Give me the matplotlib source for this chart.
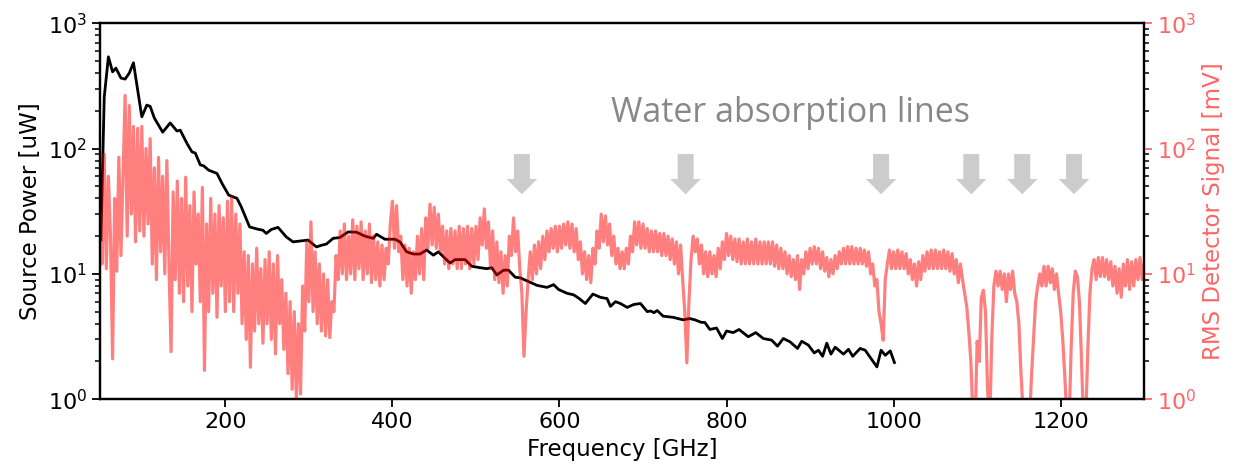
import numpy as np
import matplotlib
matplotlib.use('Agg')
import matplotlib.pyplot as plt

# source power (black)
power_freq = [51, 55, 60, 65, 69, 75, 80, 85, 90, 100, 106, 110, 115, 125, 134, 142, 146, 154, 160, 164,
              170, 174, 180, 190, 196, 204, 214, 219, 229, 239, 245, 249, 255, 263, 273, 281, 287, 299,
              309, 315, 321, 329, 337, 347, 357, 367, 377, 381, 391, 403, 409, 417, 425, 433, 441, 449,
              455, 461, 469, 475, 487, 495, 505, 513, 519, 525, 533, 539, 547, 553, 561, 573, 585, 593,
              599, 609, 617, 623, 631, 640, 649, 657, 661, 667, 673, 681, 689, 697, 705, 709, 713, 717,
              724, 736, 748, 756, 762, 770, 774, 780, 788, 795, 800, 808, 815, 826, 835, 844, 854, 861,
              868, 876, 885, 890, 898, 905, 910, 915, 920, 925, 930, 940, 946, 951, 960, 966, 973, 980,
              985, 990, 996, 1001]
power_uw = [18.6, 257, 539, 409, 438, 365, 358, 400, 483, 179, 222, 217, 175, 135, 160, 138, 140, 110, 94, 92,
            74, 72.8, 67.2, 63.3, 52.7, 42.5, 40, 34.3, 23.7, 22.7, 22.3, 21, 22.6, 23.5, 19.7, 18, 18.2, 18.6,
            16.4, 16.9, 17.3, 19.2, 19.5, 21.6, 21.5, 20, 19.2, 20.7, 18.9, 18.9, 18, 15, 14.4, 14.4, 15.5, 14.1,
            15, 13.7, 12.2, 13, 13, 11.5, 11.2, 11, 11.2, 9.8, 10.7, 10.7, 9.4, 9.3, 8.8, 8.1, 7.8, 8.2,
            7.5, 7.0, 6.8, 6.4, 5.8, 6.9, 6.5, 6.35, 5.5, 6.0, 5.8, 5.4, 5.7, 5.8, 5.0, 5.06, 4.9, 5.1,
            4.6, 4.5, 4.3, 4.4, 4.3, 4.1, 4.1, 3.6, 3.7, 3.05, 3.5, 3.4, 3.6, 3.15, 3.4, 3.05, 2.96, 2.65,
            3.05, 2.87, 2.54, 2.9, 2.7, 2.34, 2.46, 2.2, 2.8, 2.29, 2.6, 2.29, 2.5, 2.2, 2.54, 2.46, 2.11, 1.81,
            2.46, 2.24, 2.43, 1.96]

# RMS detector signal (pink), one value every 2.5 GHz from 50 to 1300 GHz
rms_freq = np.arange(50, 1300.1, 2.5)
rms_mv = [
    # 50 - 97.5
    30, 12, 90, 11, 60, 20, 2.1, 40, 10.5, 85, 14, 60, 265, 20, 220, 30, 150, 18, 145, 22,
    # 100 - 147.5
    150, 20, 100, 25, 120, 12, 70, 9, 85, 15, 60, 10, 80, 12, 2.4, 45, 9, 55, 7, 40,
    # 150 - 197.5
    6, 59, 8, 35, 5, 45, 12, 30, 6, 49, 1.7, 25, 5, 40, 7, 30, 4.5, 35, 8, 28,
    # 200 - 247.5
    5, 38, 6, 41, 5, 30, 7, 25, 4, 15, 3, 14, 1.8, 12, 3.5, 16, 4, 11, 2.8, 13,
    # 250 - 297.5
    4, 15, 3, 12, 2.3, 14, 4, 9, 2.5, 7, 1.6, 6, 1.2, 5, 1.0, 4, 1.1, 8, 3.5, 18,
    # 300 - 347.5
    6, 26, 5, 15, 4, 12, 3.5, 10, 3.2, 9, 3.1, 6, 5, 14, 9, 22, 10, 25, 9, 20,
    # 350 - 397.5
    10, 27, 9, 24, 11, 26, 9, 22, 10, 25, 8.5, 20, 9, 18, 8, 17, 9, 16, 12, 25,
    # 400 - 447.5
    38, 16, 35, 15, 20, 9, 17, 8, 16, 7, 15, 9, 20, 10, 23, 9, 28, 16, 36, 17,
    # 450 - 497.5
    34, 16, 30, 15, 24, 12, 22, 11, 23, 12, 22, 11, 24, 11, 23, 12, 24, 11, 23, 12,
    # 500 - 547.5
    24, 13, 28, 17, 33, 16, 26, 11, 22, 9, 18, 8.5, 15, 7, 14, 8, 20, 14, 28, 15,
    # 550 - 597.5
    22, 11, 7, 2.2, 5, 9, 15, 9, 17, 10, 18, 11, 20, 13, 22, 15, 23, 16, 24, 15,
    # 600 - 647.5
    24, 16, 25, 17, 26, 16, 25, 15, 23, 13, 18, 10, 15, 9, 14, 8.5, 16, 12, 22, 16,
    # 650 - 697.5
    30, 18, 29, 17, 25, 14, 20, 12, 16, 11, 15, 11, 16, 12, 20, 15, 26, 17, 26, 16,
    # 700 - 747.5
    25, 16, 23, 15, 22, 15, 22, 15, 21, 14, 21, 14, 20, 13, 19, 12, 18, 10, 17, 9,
    # 750 - 797.5
    5, 1.95, 6, 13, 20, 15, 19, 12, 17, 10, 15, 9.5, 15, 10, 14, 9.5, 16, 11, 18, 13,
    # 800 - 847.5
    21, 14, 20, 13, 19, 12.5, 19, 12, 18, 12, 19, 12, 18, 12, 19, 12, 18, 12, 18, 12,
    # 850 - 897.5
    18, 12, 18, 11.5, 17, 11, 16, 11, 15, 10, 14, 9.5, 13, 9, 14, 7.5, 13, 10, 15, 11,
    # 900 - 947.5
    16, 12, 16.5, 12, 16, 11, 15, 10.5, 13.5, 9.5, 13, 10, 14, 11, 15, 12, 16, 12, 16.5, 12,
    # 950 - 997.5
    16.5, 12, 16, 12, 16, 12, 15.5, 11.5, 15, 10, 12, 8, 9, 5, 4, 2.95, 9, 12, 15.5, 11,
    # 1000 - 1047.5
    15, 11, 15.5, 11, 15, 11, 14.5, 10, 13, 9, 12, 8, 12.5, 9, 14, 10.5, 15, 11, 15.5, 11,
    # 1050 - 1097.5
    15.5, 11, 15, 11, 15.5, 11, 15, 10.5, 14.5, 10, 13, 8.5, 12, 9, 7, 5.5, 3.5, 2, 0.7, 0.6,
    # 1100 - 1147.5
    2.9, 2, 6.5, 7.4, 5, 1.2, 0.6, 3, 8, 10.5, 8, 10.5, 7.5, 10, 6, 10, 7.5, 10.5, 7, 6,
    # 1150 - 1197.5
    4, 1.6, 0.8, 0.6, 0.7, 0.6, 1.5, 3, 6, 8, 10, 8, 11.5, 8, 11.5, 8.5, 11, 7.5, 10, 7,
    # 1200 - 1247.5
    5, 3, 1.5, 0.7, 0.6, 2.5, 7, 10.5, 9.5, 6, 2, 0.6, 0.7, 2.5, 7, 11, 13, 9, 13.5, 9.5,
    # 1250 - 1297.5
    13.5, 9.5, 13, 9, 12.5, 8, 11.5, 7, 11, 6.5, 12, 8, 13, 7.5, 12.5, 8, 13, 9, 13.5, 9,
    12,
]

# water lines marked with arrows
water_lines = [555, 751, 985, 1093, 1154, 1216]

pink_text = '#ff6666'

fig = plt.figure(figsize=(12.46, 4.73), dpi=100)
ax = fig.add_axes([0.0803, 0.156, 0.838, 0.795])
ax2 = ax.twinx()

ax.plot(power_freq, power_uw, color='black', lw=2.0)
# semi transparent red drawn over the black curve
ax2.plot(rms_freq, rms_mv, color='red', alpha=0.5, lw=2.3)

ax.set_yscale('log')
ax2.set_yscale('log')
ax.set_ylim(1, 1000)
ax2.set_ylim(1, 1000)
ax.set_xlim(50, 1300)

for a in (ax, ax2):
    for s in a.spines.values():
        s.set_linewidth(1.6)

ax.set_xlabel('Frequency [GHz]', fontsize=16.5)
ax.set_ylabel('Source Power [uW]', fontsize=16.5)
ax2.set_ylabel('RMS Detector Signal [mV]', fontsize=16.5, color=pink_text)

ax.tick_params(labelsize=16, width=1.3)
ax.tick_params(which='major', length=6)
ax.tick_params(which='minor', length=3.5, width=1.1)
ax2.tick_params(axis='y', which='major', labelsize=16, colors=pink_text, length=6, width=1.3)
ax2.tick_params(axis='y', which='minor', length=3.5, width=1.1)

for f in water_lines:
    ax2.annotate('', xy=(f, 0.545), xycoords=('data', 'axes fraction'),
                 xytext=(f, 0.652), textcoords=('data', 'axes fraction'),
                 arrowprops=dict(width=11.5, headwidth=22, headlength=11, shrink=0,
                                 color='#cccccc', lw=0))

ax2.text(877, 0.76, 'Water absorption lines', transform=ax2.get_xaxis_transform(),
         ha='center', va='center', fontsize=24.5, color='#888888', family='Open Sans')

fig.savefig('out.png', dpi=100)
